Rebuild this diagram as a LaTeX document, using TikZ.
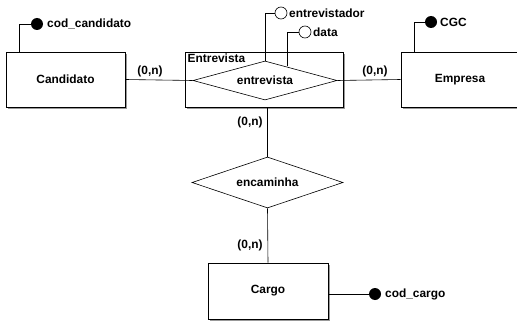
\documentclass[tikz,border=0pt]{standalone}
\usepackage{fontspec}
\setmainfont{Liberation Sans}
\usetikzlibrary{shapes.geometric,shadows}

\tikzset{
  entity/.style={draw, fill=white, line width=0.8pt, minimum width=119pt, minimum height=55pt,
    drop shadow={shadow xshift=2pt, shadow yshift=-2pt, fill=gray!80, opacity=1}},
  relation/.style={draw, diamond, aspect=3.7, inner sep=0pt, fill=white, line width=0.6pt},
  keyattr/.style={circle, fill=black, inner sep=0pt, minimum size=12pt},
  plainattr/.style={circle, draw, fill=white, inner sep=0pt, minimum size=12pt, line width=0.6pt},
  card/.style={inner sep=0pt},
  link/.style={line width=0.6pt}
}

\begin{document}
\begin{tikzpicture}[x=1pt, y=-1pt, font=\fontsize{11.9}{13}\selectfont\bfseries]
	\useasboundingbox (0,0) rectangle (517,321);
	\fill[white] (0,0) rectangle (517,321);

	% entidades
	\node[entity] (candidato) at (65.5,79.5) {Candidato};
	\node[entity, minimum width=158pt] (entrevistaBox) at (264,79.5) {};
	\node[anchor=north west, inner sep=0pt] (entrevistaLbl) at (187.5,53.5) {Entrevista};
	\node[entity, minimum width=125pt] (empresa) at (463.5,79.5) {};
	\node (empresaLbl) at (460,80) {Empresa};
	\node[entity, minimum width=120pt, minimum height=56pt] (cargo) at (268,291) {Cargo};

	% relacionamentos
	\node[relation, minimum width=144pt, minimum height=39pt] (entrevista) at (265,80.5) {entrevista};
	\node[relation, minimum width=151pt, minimum height=51pt] (encaminha) at (267.5,182.5) {encaminha};

	% ligacoes
	\draw[link] (candidato.east) -- (entrevista.west);
	\draw[link] (entrevista.east) -- (empresa.west);
	\draw[link] (entrevistaBox.south -| encaminha.north) -- (encaminha.north);
	\draw[link] (encaminha.south) -- (cargo.north);

	% cardinalidades
	\node[card] (c1) at (150,71) {(0,n)};
	\node[card] (c2) at (375,71) {(0,n)};
	\node[card] (c3) at (250,122) {(0,n)};
	\node[card] (c4) at (250,245) {(0,n)};

	% atributos
	\node[keyattr] (codCand) at (37,24) {};
	\node[anchor=west, inner sep=0pt] at (47,24) {cod\_candidato};
	\draw[link] (candidato.north west) ++(14,0) coordinate (a1) |- (codCand);

	\node[keyattr] (cgc) at (431,22) {};
	\node[anchor=west, inner sep=0pt] at (440,22) {CGC};
	\draw[link] (empresa.north west) ++(14,0) coordinate (a2) |- (cgc);

	\node[keyattr] (codCargo) at (375,294) {};
	\node[anchor=west, inner sep=0pt] at (385,294) {cod\_cargo};
	\draw[link] (cargo.east |- codCargo) -- (codCargo);

	\node[plainattr] (entrevistador) at (281,13) {};
	\node[anchor=west, inner sep=0pt] at (289,13) {entrevistador};
	\draw[link] (entrevista.north) -- (entrevista.north |- entrevistador) -- (entrevistador);

	\node[plainattr] (data) at (305,32) {};
	\node[anchor=west, inner sep=0pt] at (313,32) {data};
	\coordinate (d0) at (287,66.5);
	\draw[link] (d0) |- (data);
\end{tikzpicture}
\end{document}
